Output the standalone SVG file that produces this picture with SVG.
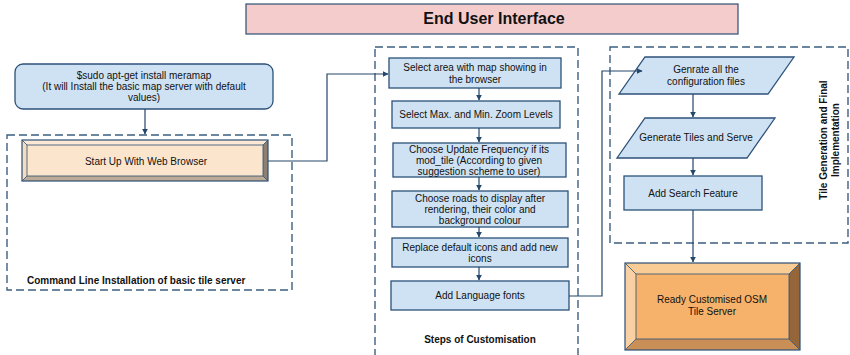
<svg xmlns="http://www.w3.org/2000/svg" width="850" height="355" viewBox="0 0 850 355">
<defs>
<marker id="ah" viewBox="0 0 10 10" refX="9" refY="5" markerWidth="6" markerHeight="6" orient="auto" markerUnits="userSpaceOnUse">
<path d="M0,0 L10,5 L0,10 z" fill="#24476b"/>
</marker>
</defs>
<style>
text{font-family:"Liberation Sans",Arial,sans-serif;font-size:10px;fill:#111;text-anchor:middle}
.b{font-weight:bold}
.box{fill:#cfe2f3;stroke:#2c5279;stroke-width:1.3}
.grp{fill:none;stroke:#3d5f80;stroke-width:1.4;stroke-dasharray:8,4}
.con{fill:none;stroke:#24476b;stroke-width:1.2;marker-end:url(#ah)}
</style>
<rect width="850" height="355" fill="#fff"/>

<g id="title">
<rect x="246" y="4" width="492" height="30" fill="#f4cccc" stroke="#2c4f74" stroke-width="1.2"/>
<text x="494" y="24" class="b" style="font-size:16px">End User Interface</text>
</g>

<g id="group-install">
<rect class="grp" x="7" y="135" width="285" height="155"/>
<text x="27" y="284" class="b" style="text-anchor:start">Command Line Installation of basic tile server</text>
</g>

<g id="group-custom">
<rect class="grp" x="375" y="47" width="203" height="312"/>
<text x="480" y="343" class="b">Steps of Customisation</text>
</g>

<g id="group-tile">
<rect class="grp" x="610" y="47" width="238" height="196"/>
<text transform="translate(832,140) rotate(-90)" class="b"><tspan x="0" y="-5">Tile Generation and Final</tspan><tspan x="0" y="7">Implementation</tspan></text>
</g>

<g id="n-install">
<rect class="box" x="15" y="64" width="258" height="45" rx="8"/>
<text x="144" y="79">$sudo apt-get install meramap</text>
<text x="144" y="90">(It will Install the basic map server with default</text>
<text x="144" y="101">values)</text>
</g>

<g id="n-browser">
<polygon points="22,140 268,140 263,145 27,145" fill="#fbe9d6"/>
<polygon points="268,140 268,181 263,176 263,145" fill="#8e8070"/>
<polygon points="22,181 268,181 263,176 27,176" fill="#bcab96"/>
<polygon points="22,140 27,145 27,176 22,181" fill="#f5dcc0"/>
<rect x="27" y="145" width="236" height="31" fill="#fce5cd"/>
<rect x="22" y="140" width="246" height="41" fill="none" stroke="#2c4f74" stroke-width="1.2"/>
<path d="M22,140 L27,145 M268,140 L263,145 M22,181 L27,176 M268,181 L263,176" stroke="#2c4f74" stroke-width="0.8"/>
<rect x="27" y="145" width="236" height="31" fill="none" stroke="#2c4f74" stroke-width="0.8"/>
<text x="146" y="165">Start Up With Web Browser</text>
</g>

<g id="n-select-area">
<rect class="box" x="389" y="58" width="172" height="30"/>
<text x="475" y="71">Select area with map showing in</text>
<text x="475" y="83">the browser</text>
</g>
<g id="n-zoom">
<rect class="box" x="392" y="101" width="168" height="27"/>
<text x="476" y="118">Select Max. and Min. Zoom Levels</text>
</g>
<g id="n-update">
<rect class="box" x="393" y="143" width="173" height="34"/>
<text x="479" y="153">Choose Update Frequency if its</text>
<text x="479" y="164">mod_tile (According to given</text>
<text x="479" y="175">suggestion scheme to user)</text>
</g>
<g id="n-roads">
<rect class="box" x="392" y="191" width="176" height="36"/>
<text x="480" y="202">Choose roads to display after</text>
<text x="480" y="213">rendering, their color and</text>
<text x="480" y="224">background colour</text>
</g>
<g id="n-icons">
<rect class="box" x="392" y="238" width="176" height="29"/>
<text x="480" y="251">Replace default icons and add new</text>
<text x="480" y="262">icons</text>
</g>
<g id="n-fonts">
<rect class="box" x="391" y="281" width="178" height="29"/>
<text x="480" y="299">Add Language fonts</text>
</g>

<g id="n-config">
<polygon class="box" points="645,57 794,57 768,94 619,94"/>
<text x="706" y="73">Genrate all the</text>
<text x="706" y="85">configuration files</text>
</g>
<g id="n-tiles">
<polygon class="box" points="645,118 775,118 747,158 617,158"/>
<text x="696" y="141">Generate Tiles and Serve</text>
</g>
<g id="n-search">
<rect class="box" x="624" y="176" width="138" height="34"/>
<text x="693" y="197">Add Search Feature</text>
</g>

<g id="n-ready">
<polygon points="625,263 800,263 789,274 636,274" fill="#f9cc96"/>
<polygon points="800,263 800,350 789,339 789,274" fill="#94663a"/>
<polygon points="625,350 800,350 789,339 636,339" fill="#c98f57"/>
<polygon points="625,263 636,274 636,339 625,350" fill="#f8d0a4"/>
<rect x="636" y="274" width="153" height="65" fill="#f6b26b"/>
<rect x="625" y="263" width="175" height="87" fill="none" stroke="#2c4f74" stroke-width="1.2"/>
<path d="M625,263 L636,274 M800,263 L789,274 M625,350 L636,339 M800,350 L789,339" stroke="#2c4f74" stroke-width="0.8"/>
<rect x="636" y="274" width="153" height="65" fill="none" stroke="#2c4f74" stroke-width="0.8"/>
<text x="712" y="303">Ready Customised OSM</text>
<text x="712" y="315">Tile Server</text>
</g>

<g id="connectors">
<path class="con" d="M145,109 L145,134"/>
<path class="con" d="M268,161 L327,161 L327,74 L388,74"/>
<path class="con" d="M479,88 L479,100"/>
<path class="con" d="M479,128 L479,142"/>
<path class="con" d="M479,177 L479,190"/>
<path class="con" d="M479,227 L479,237"/>
<path class="con" d="M479,267 L479,280"/>
<path class="con" d="M569,296 L602,296 L602,71 L642,71"/>
<path class="con" d="M693,94 L693,117"/>
<path class="con" d="M693,158 L693,175"/>
<path class="con" d="M693,210 L693,262"/>
</g>
</svg>
